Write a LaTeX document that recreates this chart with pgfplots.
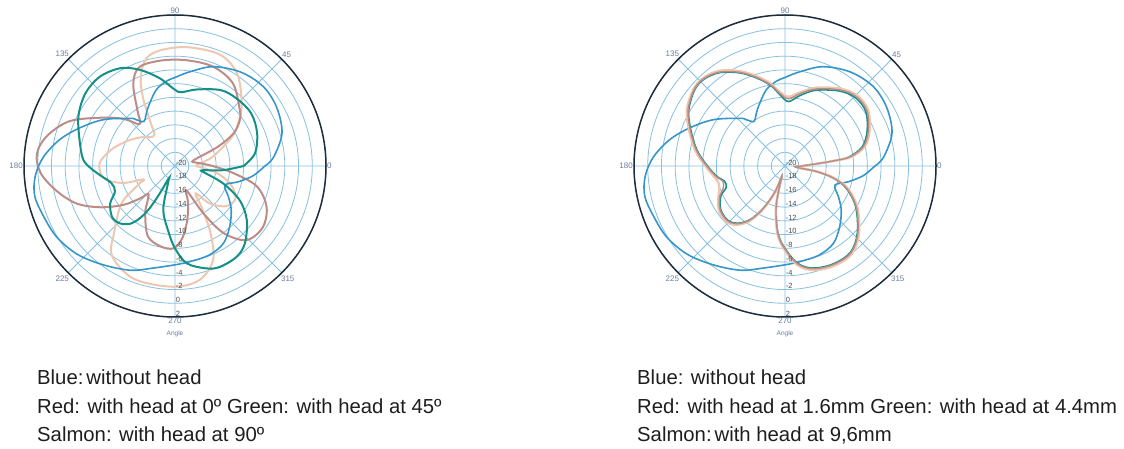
\documentclass[border=0pt]{standalone}
\usepackage{fontspec}
\setmainfont{Liberation Sans}
\usepackage{pgfplots}
\usepackage{pgfplotstable}
\pgfplotsset{compat=1.18}
\usepgfplotslibrary{polar}

\definecolor{rim}{RGB}{30,45,60}
\definecolor{gridblue}{RGB}{135,192,226}
\definecolor{cblue}{RGB}{55,150,200}
\definecolor{cgreen}{RGB}{20,145,135}
\definecolor{cred}{RGB}{190,140,135}
\definecolor{csalmon}{RGB}{236,200,176}
\definecolor{anglelab}{RGB}{105,125,155}
\definecolor{txt}{RGB}{30,30,30}

% radiation patterns, angle in degrees, level in dB
\pgfplotstableread{
ang db
0   -6.9
5   -5.6
17  -3.7
30  -2.9
42  -2.7
55  -3.3
69  -4.5
81  -6.1
90  -7.1
96  -7.6
104 -8.6
114 -10.5
120 -11.5
125 -12.1
130 -11.2
133 -10.5
147 -7.6
158 -5.1
167 -2.8
176 -0.8
184 0.4
192 0.9
201 0.5
211 0.1
222 -0.8
234 -2.2
247 -3.5
258 -4.8
270 -5.6
279 -5.9
291 -6.1
302 -6.7
312 -8.1
322 -9.6
330 -11.0
339 -12.2
346 -10.5
353 -8.5
360 -6.9
}\nohead

\pgfplotstableread{
ang db
0   -14.5
5   -16.0
10  -17.0
17  -17.2
24  -13.3
29  -10.3
35  -8.5
41  -7.5
55  -5.3
69  -4.5
84  -4.5
98  -4.5
110 -4.7
117 -6.6
124 -10.2
130 -12.0
137 -10.0
146 -7.4
157 -3.3
167 -0.8
175 0.2
183 -0.4
192 -2.4
201 -4.7
209 -7.6
217 -10.6
223 -13.1
226 -14.4
232 -13.5
238 -11.8
249 -9.0
260 -8.1
269 -8.0
276 -9.5
283 -12.0
290 -14.5
295 -16.1
301 -11.9
306 -7.9
314 -5.0
325 -4.4
336 -5.4
346 -7.7
353 -11.4
360 -14.5
}\angred

\pgfplotstableread{
ang db
0   -10.0
9   -8.2
22  -7.1
35  -6.5
48  -6.7
59  -7.1
74  -8.4
85  -9.2
90  -8.9
100 -7.0
110 -5.1
119 -3.7
130 -3.0
141 -3.2
153 -4.2
167 -5.8
176 -6.6
181 -7.6
187 -9.0
195 -10.4
203 -10.5
210 -9.1
219 -8.2
226 -8.4
232 -9.3
236 -10.8
239 -12.8
241 -15.5
243 -18.0
247 -17.5
255 -13.4
264 -10.5
270 -8.0
277 -5.7
287 -4.4
294 -3.9
304 -4.0
312 -4.8
323 -6.9
332 -9.3
340 -12.5
347 -15.5
351 -16.0
355 -13.0
360 -10.0
}\anggreen

\pgfplotstableread{
ang db
0   -17.0
5   -16.5
14  -14.3
27  -10.7
34  -8.9
43  -6.7
56  -3.8
68  -2.5
84  -2.6
97  -3.0
105 -3.8
111 -6.1
115 -8.9
119 -12.5
123 -14.5
130 -14.5
140 -13.5
152 -12.2
165 -10.5
178 -9.0
190 -9.5
198 -12.0
203 -15.0
207 -14.0
215 -10.5
228 -6.7
235 -4.0
250 -2.5
269 -2.4
282 -3.0
292 -5.2
298 -9.0
303 -13.0
307 -15.0
313 -12.5
322 -10.5
332 -10.0
342 -11.5
351 -14.0
360 -17.0
}\angsalmon

\pgfplotstableread{
ang db
0   -17.5
4   -15.4
6   -12.9
8   -10.4
14  -8.2
23  -6.8
34  -5.6
44  -5.5
54  -6.3
68  -7.9
78  -9.2
87  -10.2
94  -9.4
100 -8.0
108 -6.4
116 -4.8
125 -3.3
133 -2.6
140 -2.7
150 -3.7
159 -5.2
170 -6.9
180 -8.6
189 -9.9
194 -10.7
200 -10.4
205 -9.5
214 -8.6
223 -8.4
230 -9.0
237 -10.6
243 -13.1
249 -16.0
253 -18.5
255 -17.0
257 -14.5
260 -12.5
264 -10.1
269 -8.2
277 -5.7
285 -4.5
296 -4.0
307 -4.1
317 -5.5
330 -8.0
340 -10.4
346 -12.7
350 -15.3
352 -17.8
356 -18.5
360 -17.5
}\distred

\pgfplotstableread{
ang db
0   -17.6
4   -15.5
6   -13.0
8   -10.6
14  -8.4
23  -7.0
34  -5.8
44  -5.7
54  -6.5
68  -8.1
78  -9.5
87  -10.6
94  -9.6
100 -8.1
108 -6.5
116 -4.9
125 -3.4
133 -2.7
140 -2.8
150 -3.8
159 -5.3
170 -7.0
180 -8.7
189 -10.0
194 -10.9
200 -10.9
205 -9.7
214 -8.7
223 -8.5
230 -9.1
237 -10.7
243 -13.2
249 -16.1
253 -18.5
255 -17.1
257 -14.6
260 -12.6
264 -10.2
269 -8.3
277 -5.8
285 -4.6
296 -4.1
307 -4.2
317 -5.6
330 -8.1
340 -10.5
346 -12.8
350 -15.4
352 -17.8
356 -18.5
360 -17.6
}\distgreen

\pgfplotstableread{
ang db
0   -17.3
4   -15.2
6   -12.7
8   -10.2
14  -8.0
23  -6.6
34  -5.4
44  -5.3
54  -6.1
68  -7.7
78  -9.0
87  -9.9
94  -9.2
100 -7.8
108 -6.2
116 -4.6
125 -3.1
133 -2.5
140 -2.6
150 -3.5
159 -5.0
170 -6.7
180 -8.4
189 -9.6
194 -10.0
200 -9.8
205 -9.3
214 -8.4
223 -8.2
230 -8.8
237 -10.4
243 -12.9
249 -15.8
253 -18.3
255 -16.8
257 -14.3
260 -12.3
264 -9.9
269 -8.0
277 -5.5
285 -4.3
296 -3.8
307 -3.9
317 -5.3
330 -7.8
340 -10.2
346 -12.5
350 -15.1
352 -17.6
356 -18.3
360 -17.3
}\distsalmon

\pgfplotsset{
  rosette/.style={
    scale only axis, width=302pt, height=302pt,
    anchor=center,
    xmin=0, xmax=360, ymin=0, ymax=22,
    xtick={0,45,...,315},
    ytick={0,2,...,22}, yticklabel=\empty,
    grid=major,
    major grid style={gridblue, line width=0.8pt},
    axis line style={rim, line width=1.5pt},
    y axis line style={draw=none},
    major tick length=0pt,
    xticklabel style={font=\fontsize{8}{9}\selectfont, text=anglelab, inner sep=1pt},
    /pgf/number format/assume math mode=true,
    y filter/.expression={y+20},
    clip=false,
  },
  trace/.style={smooth, tension=0.55, no marks, line width=#1},
}
\tikzset{
  rlab/.style={anchor=south west, inner sep=0.6pt, font=\fontsize{7.5}{8}\selectfont, text=black!70},
}

\newcommand{\radiallabels}{%
  \node[rlab] at (axis cs:270,0) {-20};
  \node[rlab] at (axis cs:270,2) {-18};
  \node[rlab] at (axis cs:270,4) {-16};
  \node[rlab] at (axis cs:270,6) {-14};
  \node[rlab] at (axis cs:270,8) {-12};
  \node[rlab] at (axis cs:270,10) {-10};
  \node[rlab] at (axis cs:270,12) {-8};
  \node[rlab] at (axis cs:270,14) {-6};
  \node[rlab] at (axis cs:270,16) {-4};
  \node[rlab] at (axis cs:270,18) {-2};
  \node[rlab] at (axis cs:270,20) {0};
  \node[rlab] at (axis cs:270,22) {2};
  \node[font=\fontsize{6.5}{7}\selectfont, text=anglelab, yshift=-17pt] at (axis cs:270,22) {Angle};
}

\begin{document}
\begin{tikzpicture}
\path[use as bounding box] (0,0) rectangle (1124pt,449pt);

\begin{polaraxis}[rosette, at={(175pt,283pt)}]
  \addplot[trace=2pt, csalmon] table[x=ang, y=db] {\angsalmon};
  \addplot[trace=2pt, cred] table[x=ang, y=db] {\angred};
  \addplot[trace=1.6pt, cblue] table[x=ang, y=db] {\nohead};
  \addplot[trace=2pt, cgreen] table[x=ang, y=db] {\anggreen};
  \radiallabels
\end{polaraxis}

\begin{polaraxis}[rosette, at={(785pt,283pt)}]
  \addplot[trace=1.6pt, cblue] table[x=ang, y=db] {\nohead};
  \addplot[trace=1.6pt, cgreen] table[x=ang, y=db] {\distgreen};
  \addplot[trace=2.4pt, csalmon] table[x=ang, y=db] {\distsalmon};
  \addplot[trace=1.4pt, cred] table[x=ang, y=db] {\distred};
  \radiallabels
\end{polaraxis}

\begin{scope}[every node/.style={anchor=base west, inner sep=0pt, text=txt, font=\fontsize{20.3}{24}\selectfont}]
  \node at (37pt,64pt) {Blue:\hspace{3pt}without head};
  \node at (37pt,35.5pt) {Red: with head at 0º Green: with head at 45º};
  \node at (37pt,7pt) {Salmon: with head at 90º};
  \node at (637pt,64pt) {Blue: without head};
  \node at (637pt,35.5pt) {Red: with head at 1.6mm Green: with head at 4.4mm};
  \node at (637pt,7pt) {Salmon:\hspace{3pt}with head at 9,6mm};
\end{scope}
\end{tikzpicture}
\end{document}
